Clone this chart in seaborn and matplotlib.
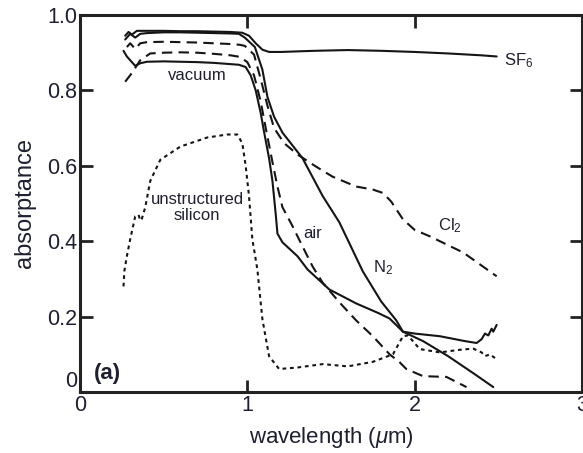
import matplotlib
matplotlib.use("Agg")
import matplotlib.pyplot as plt
import seaborn as sns
import pandas as pd

# --- absorptance spectra, wavelength in micrometres ---
sf6_x = [0.27, 0.29, 0.31, 0.34, 0.40, 0.50, 0.60, 0.70, 0.80, 0.90, 0.97, 1.01, 1.05,
         1.09, 1.13, 1.20, 1.40, 1.60, 1.80, 2.00, 2.20, 2.40, 2.49]
sf6_y = [0.945, 0.955, 0.948, 0.958, 0.958, 0.958, 0.957, 0.957, 0.956, 0.955, 0.953, 0.945, 0.925,
         0.908, 0.902, 0.902, 0.905, 0.907, 0.905, 0.902, 0.898, 0.893, 0.890]

n2_x = [0.27, 0.30, 0.33, 0.36, 0.40, 0.50, 0.60, 0.70, 0.80, 0.90, 0.95, 0.985, 1.045, 1.09,
        1.12, 1.16, 1.21, 1.33, 1.45, 1.55, 1.69, 1.80, 1.89, 1.93, 2.05, 2.20, 2.35, 2.47]
n2_y = [0.935, 0.950, 0.940, 0.950, 0.952, 0.954, 0.954, 0.953, 0.952, 0.951, 0.950, 0.940, 0.915, 0.855,
        0.783, 0.730, 0.688, 0.620, 0.520, 0.450, 0.320, 0.240, 0.190, 0.160, 0.135, 0.095, 0.050, 0.013]

cl2_x = [0.28, 0.30, 0.33, 0.36, 0.40, 0.50, 0.60, 0.70, 0.80, 0.90, 0.955, 0.985, 1.04, 1.08,
         1.12, 1.16, 1.22, 1.30, 1.41, 1.51, 1.65, 1.75, 1.81, 1.86, 1.93, 2.00, 2.09, 2.29, 2.49]
cl2_y = [0.915, 0.925, 0.910, 0.925, 0.928, 0.929, 0.928, 0.927, 0.925, 0.923, 0.921, 0.918, 0.895, 0.830,
         0.760, 0.700, 0.660, 0.630, 0.598, 0.571, 0.545, 0.537, 0.528, 0.505, 0.458, 0.430, 0.413, 0.370, 0.307]

air_x = [0.27, 0.31, 0.36, 0.42, 0.50, 0.60, 0.70, 0.80, 0.90, 0.955, 1.00, 1.04, 1.08, 1.11,
         1.15, 1.18, 1.21, 1.27, 1.33, 1.39, 1.45, 1.55, 1.65, 1.75, 1.85, 1.91, 1.95, 2.05, 2.19, 2.31]
air_y = [0.823, 0.846, 0.880, 0.898, 0.900, 0.901, 0.900, 0.897, 0.893, 0.889, 0.875, 0.840, 0.770, 0.700,
         0.610, 0.545, 0.490, 0.440, 0.386, 0.333, 0.290, 0.238, 0.190, 0.148, 0.100, 0.079, 0.061, 0.042, 0.040, 0.013]

vac_x = [0.26, 0.28, 0.30, 0.33, 0.36, 0.40, 0.50, 0.60, 0.70, 0.80, 0.95, 0.99, 1.02, 1.05,
         1.08, 1.10, 1.13, 1.15, 1.17, 1.18, 1.21, 1.30, 1.36, 1.49, 1.65, 1.78, 1.85, 1.93,
         2.00, 2.15, 2.30, 2.37, 2.40, 2.42, 2.44, 2.46, 2.47, 2.49]
vac_y = [0.905, 0.890, 0.880, 0.865, 0.872, 0.876, 0.877, 0.876, 0.875, 0.873, 0.868, 0.862, 0.840, 0.800,
         0.740, 0.690, 0.620, 0.560, 0.470, 0.420, 0.397, 0.360, 0.325, 0.272, 0.235, 0.210, 0.195, 0.160,
         0.155, 0.148, 0.135, 0.130, 0.140, 0.155, 0.150, 0.168, 0.160, 0.178]

si_x = [0.26, 0.265, 0.28, 0.30, 0.33, 0.35, 0.36, 0.37, 0.39, 0.42, 0.48, 0.60, 0.76, 0.88,
        0.94, 0.97, 0.99, 1.01, 1.03, 1.06, 1.09, 1.13, 1.19, 1.30, 1.45, 1.60, 1.75, 1.87,
        1.93, 1.96, 2.03, 2.15, 2.27, 2.35, 2.40, 2.42, 2.45, 2.48]
si_y = [0.280, 0.320, 0.360, 0.405, 0.466, 0.470, 0.455, 0.460, 0.490, 0.560, 0.616, 0.651, 0.675, 0.683,
        0.683, 0.660, 0.600, 0.520, 0.405, 0.325, 0.193, 0.095, 0.061, 0.065, 0.074, 0.068, 0.080, 0.100,
        0.148, 0.150, 0.114, 0.105, 0.112, 0.115, 0.105, 0.095, 0.100, 0.090]

x_ticks = [0, 1, 2, 3]
x_tick_labels = ["0", "1", "2", "3"]
y_ticks = [0, 0.2, 0.4, 0.6, 0.8, 1.0]
y_tick_labels = ["0", "0.2", "0.4", "0.6", "0.8", "1.0"]

series = [
    ("SF6", sf6_x, sf6_y, None),
    ("N2", n2_x, n2_y, None),
    ("Cl2", cl2_x, cl2_y, (5, 3)),
    ("air", air_x, air_y, (5, 3)),
    ("vacuum", vac_x, vac_y, None),
    ("unstructured silicon", si_x, si_y, (1.8, 1.8)),
]

sns.set_theme(style="ticks")
text_col = "#1e1f30"
plt.rcParams.update({
    "font.family": ["Liberation Sans", "DejaVu Sans"],
    "mathtext.fontset": "custom",
    "mathtext.rm": "Liberation Sans",
    "mathtext.it": "Liberation Sans:italic",
    "text.color": text_col,
    "axes.labelcolor": text_col,
    "xtick.color": "#222222",
    "ytick.color": "#222222",
    "xtick.labelcolor": text_col,
    "ytick.labelcolor": text_col,
})

fig = plt.figure(figsize=(5.83, 4.53), dpi=100)
ax = fig.add_axes([80 / 583, 61 / 453, 502 / 583, 377 / 453])

for name, xs, ys, dash in series:
    df = pd.DataFrame({"wavelength": xs, "absorptance": ys})
    sns.lineplot(data=df, x="wavelength", y="absorptance", ax=ax, color="#151515",
                 linewidth=1.5, sort=False, estimator=None)
    line = ax.lines[-1]
    if dash is not None:
        line.set_dashes(dash)

ax.set_xlim(0, 3)
ax.set_ylim(0, 1.0)
ax.set_xticks(x_ticks)
ax.set_xticklabels(x_tick_labels)
ax.set_yticks(y_ticks)
ax.set_yticklabels(y_tick_labels)
ax.tick_params(direction="in", length=9, width=2, labelsize=15.5, pad=2,
               top=True, right=True)
# lift the y-axis "0" so it sits clear of the x-axis "0"
ax.get_yticklabels()[0].set_verticalalignment("bottom")
for s in ax.spines.values():
    s.set_linewidth(2.2)
    s.set_color("#222222")

ax.set_xlabel(r"wavelength ($\mu$m)", fontsize=16, labelpad=7)
ax.set_ylabel("absorptance", fontsize=17, labelpad=8)

ann = dict(fontsize=12, color=text_col)
ax.text(0.70, 0.84, "vacuum", ha="center", va="center", **ann)
ax.text(0.70, 0.49, "unstructured\nsilicon", ha="center", va="center", linespacing=1.05, **ann)
ax.text(1.39, 0.42, "air", ha="center", va="center", **ann)
ax.text(1.81, 0.33, r"N$_\mathregular{2}$", ha="center", va="center", **ann)
ax.text(2.21, 0.44, r"Cl$_\mathregular{2}$", ha="center", va="center", **ann)
ax.text(2.62, 0.88, r"SF$_\mathregular{6}$", ha="center", va="center", **ann)
ax.text(0.08, 0.05, "(a)", ha="left", va="center", fontsize=16, fontweight="bold", color=text_col)

fig.savefig("out.png", dpi=100)
